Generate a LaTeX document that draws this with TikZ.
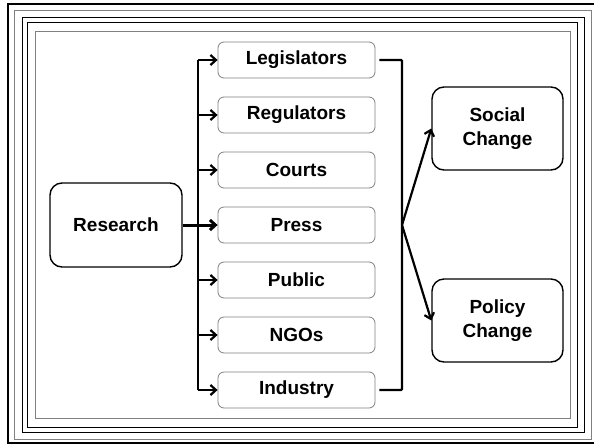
\documentclass[tikz,border=0pt]{standalone}
\usepackage{fontspec}
\setmainfont{Liberation Sans}
\usetikzlibrary{arrows.meta,positioning}

\begin{document}
\begin{tikzpicture}[x=1pt,y=-1pt,->,>={Straight Barb[length=5.5pt,width=10pt]},line width=2.2pt,
    node distance=55pt,font=\fontsize{19}{24}\selectfont\bfseries]
      \tikzstyle{channel}=[draw=gray,line width=0.8pt,rounded corners=6pt,minimum width=157pt,minimum height=36pt]
      \tikzstyle{outcome}=[draw=black,line width=1.4pt,rounded corners=12pt,minimum width=131pt,minimum height=83pt,align=center]
      \tikzstyle{frame}=[-,line width=1pt]

      \useasboundingbox (0,0) rectangle (594,445);
      % border
      \draw[frame,line width=2.2pt] (8,4) rectangle (597,443);
      \draw[frame,gray] (14,10) rectangle (591,439);
      \draw[frame] (22,17) rectangle (584,432);
      \draw[frame] (27,22) rectangle (577,427);
      \draw[frame,gray] (35,31) rectangle (570,418);

      \node [outcome,minimum width=132pt,minimum height=84pt] (res) at (116,225) {Research};
      \node [channel] (leg) at (296.5,60) {Legislators};
      \node [channel] (reg) [below of=leg] {Regulators};
      \node [channel] (cou) [below of=reg] {Courts};
      \node [channel] (pre) [below of=cou] {Press};
      \node [channel] (pub) [below of=pre] {Public};
      \node [channel] (ngo) [below of=pub] {NGOs};
      \node [channel] (ind) [below of=ngo] {Industry};
      \node [outcome] (soc) at (497.5,128.5) {Social\\Change};
      \node [outcome] (pol) at (497.5,320.5) {Policy\\Change};

      \coordinate (trunk) at (198,225);
      \coordinate (join) at (402,225);

      \draw [line width=3pt] (res) -- (pre);
      \draw [-] (trunk |- leg) -- (trunk |- ind);
      \path (trunk |- leg) edge (leg)
      (trunk |- reg) edge (reg)
      (trunk |- cou) edge (cou)
      (trunk |- pub) edge (pub)
      (trunk |- ngo) edge (ngo)
      (trunk |- ind) edge (ind);

      \draw [-,rounded corners=1pt] ([xshift=4pt]leg.east) -| (join) |- ([xshift=4pt]ind.east);
      \path (join) edge (soc.west)
      edge (pol.west);
    \end{tikzpicture}
\end{document}
